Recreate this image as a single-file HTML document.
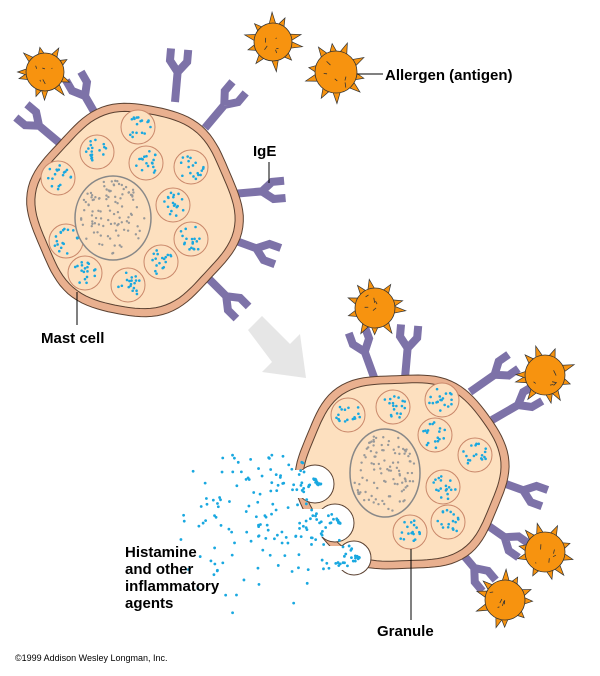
<!DOCTYPE html>
<html><head><meta charset="utf-8">
<style>
html,body{margin:0;padding:0;background:#fff;}
svg{display:block;}
text{font-family:"Liberation Sans",Arial,sans-serif;font-weight:bold;fill:#000;}
</style></head>
<body>
<svg id="s" width="600" height="676" viewBox="0 0 600 676" xmlns="http://www.w3.org/2000/svg">
<g id="arrow"><polygon points="248,330 262,316 290,344 300,334 306,378 262,372 272,362" fill="#e6e6e6"/></g>
<g id="ys"></g>
<g id="cells"></g>
<g id="dots"></g>
<g id="allergens"></g>
<g id="labels" stroke="#000" stroke-width="1">
<line x1="357" y1="74" x2="383" y2="74"/>
<line x1="269" y1="162" x2="269" y2="183"/>
<line x1="77" y1="292" x2="77" y2="325"/>
<line x1="411" y1="549" x2="411" y2="620"/>
</g>
<text x="385" y="80" font-size="15">Allergen (antigen)</text>
<text x="253" y="156" font-size="15">IgE</text>
<text x="41" y="343" font-size="15">Mast cell</text>
<text x="377" y="636" font-size="15">Granule</text>
<text x="125" y="557" font-size="15">Histamine</text>
<text x="125" y="574" font-size="15">and other</text>
<text x="125" y="591" font-size="15">inflammatory</text>
<text x="125" y="608" font-size="15">agents</text>
<text x="15" y="661" font-size="9" style="font-weight:normal">©1999 Addison Wesley Longman, Inc.</text>
</svg>
<script>
var NS="http://www.w3.org/2000/svg";
function el(p,t,a){var e=document.createElementNS(NS,t);for(var k in a)e.setAttribute(k,a[k]);p.appendChild(e);return e;}
var seed=7;function rnd(){seed=(seed*16807)%2147483647;return seed/2147483647;}
var ys=document.getElementById('ys'),cells=document.getElementById('cells'),al=document.getElementById('allergens'),dots=document.getElementById('dots');
function Y(x,y,ang,L){L=L||30;var a=ang*Math.PI/180;var fx=x+Math.cos(a)*L,fy=y+Math.sin(a)*L;
 var d="M"+x+","+y+" L"+fx+","+fy;
 [-38,38].forEach(function(o){var b=a+o*Math.PI/180;var ex=fx+Math.cos(b)*14,ey=fy+Math.sin(b)*14;var ex2=ex+Math.cos(a)*12,ey2=ey+Math.sin(a)*12;d+=" M"+fx+","+fy+" L"+ex+","+ey+" L"+ex2+","+ey2;});
 el(ys,'path',{d:d,stroke:"#7d72a8","stroke-width":8,fill:"none","stroke-linejoin":"miter","stroke-linecap":"butt"});}
function cellPath(cx,cy,rx,ry,ph,amp){var d="";for(var i=0;i<=120;i++){var t=i/120*2*Math.PI;var r=1+amp*(Math.sin(6*t+ph)*0.6+Math.sin(4*t+ph*2)*0.4);var x=cx+rx*r*Math.cos(t),y=cy+ry*r*Math.sin(t);d+=(i?"L":"M")+x.toFixed(1)+","+y.toFixed(1);}return d+"Z";}
function cell(cx,cy,rx,ry,ph){el(cells,'path',{d:cellPath(cx,cy,rx,ry,ph,0.04),fill:"#e9b08f",stroke:"#5a4030","stroke-width":1});
 el(cells,'path',{d:cellPath(cx,cy,rx-8,ry-8,ph,0.04),fill:"#fde0bf",stroke:"#5a4030","stroke-width":1});}
function granule(x,y){el(cells,'circle',{cx:x,cy:y,r:17,fill:"#fde0bf",stroke:"#c9876a","stroke-width":1});
 for(var i=0;i<18;i++){var a=rnd()*6.283,r=Math.sqrt(rnd())*13;el(cells,'circle',{cx:x+Math.cos(a)*r,cy:y+Math.sin(a)*r,r:1.3,fill:"#19a8e0"});}}
function nucleus(x,y,rx,ry){el(cells,'ellipse',{cx:x,cy:y,rx:rx,ry:ry,fill:"#fde0bf",stroke:"#888","stroke-width":1.5});
 for(var i=0;i<100;i++){var a=rnd()*6.283,r=Math.sqrt(rnd())*0.9;el(cells,'circle',{cx:x+Math.cos(a)*r*rx,cy:y+Math.sin(a)*r*ry,r:1.2,fill:"#999"});}}
function allergen(x,y,r){var g=el(al,'g',{});
 for(var i=0;i<10;i++){var a=i/10*6.283+rnd()*0.4;var b1=a-0.22,b2=a+0.22,l=r+6+rnd()*5;
  el(g,'polygon',{points:(x+Math.cos(b1)*(r-2))+","+(y+Math.sin(b1)*(r-2))+" "+(x+Math.cos(a)*l)+","+(y+Math.sin(a)*l)+" "+(x+Math.cos(b2)*(r-2))+","+(y+Math.sin(b2)*(r-2)),fill:"#f7930f",stroke:"#333","stroke-width":0.7});}
 el(g,'circle',{cx:x,cy:y,r:r,fill:"#f7930f",stroke:"#333","stroke-width":0.8});
 var d="";for(var i=0;i<5;i++){var px=x+(rnd()-0.5)*r*1.2,py=y+(rnd()-0.5)*r*1.2;d+="M"+px+","+py+"l"+(rnd()*8-4)+","+(rnd()*8-2);}
 el(g,'path',{d:d,stroke:"#333","stroke-width":0.8,fill:"none"});}
Y(62,145,-140);Y(100,122,-120);Y(175,102,-85);Y(205,128,-50);Y(232,194,-5);Y(228,238,20);Y(205,275,45);
Y(375,380,-110);Y(405,378,-85);Y(470,392,-35);Y(492,420,-30);Y(495,480,20);Y(480,520,35);Y(455,545,50);
cell(135,210,105,106,0.5);
[[138,127],[97,152],[146,163],[191,167],[58,178],[173,205],[191,239],[66,241],[161,262],[85,273],[128,285]].forEach(function(p){granule(p[0],p[1]);});
nucleus(113,218,38,42);
cell(402,472,106,100,2.1);
var pk=[[315,484,19],[335,523,19],[354,558,17]];
pk.forEach(function(p){el(cells,'circle',{cx:p[0],cy:p[1],r:p[2],fill:"#fff",stroke:"#5a4030","stroke-width":1});});
pk.forEach(function(p){el(cells,'rect',{x:280,y:p[1]-p[2]+5,width:p[0]-280,height:2*p[2]-10,fill:"#fff"});});
[[348,415],[393,407],[442,400],[435,435],[475,455],[443,487],[448,522],[410,532]].forEach(function(p){granule(p[0],p[1]);});
nucleus(385,473,35,44);
for(var i=0;i<230;i++){var p=pk[i%3];var d=Math.pow(rnd(),1.3)*165;var a=Math.PI+(rnd()-0.5)*1.6+0.15;var x=p[0]+6+Math.cos(a)*d,y=p[1]+Math.sin(a)*d*0.9;if(x<175||y>645||y<455)continue;el(dots,'circle',{cx:x,cy:y,r:1.4,fill:"#19a8e0"});}
allergen(45,72,19);allergen(273,42,19);allergen(336,72,21);allergen(375,308,20);allergen(545,375,20);allergen(545,552,20);allergen(505,600,20);
</script>
</body></html>
